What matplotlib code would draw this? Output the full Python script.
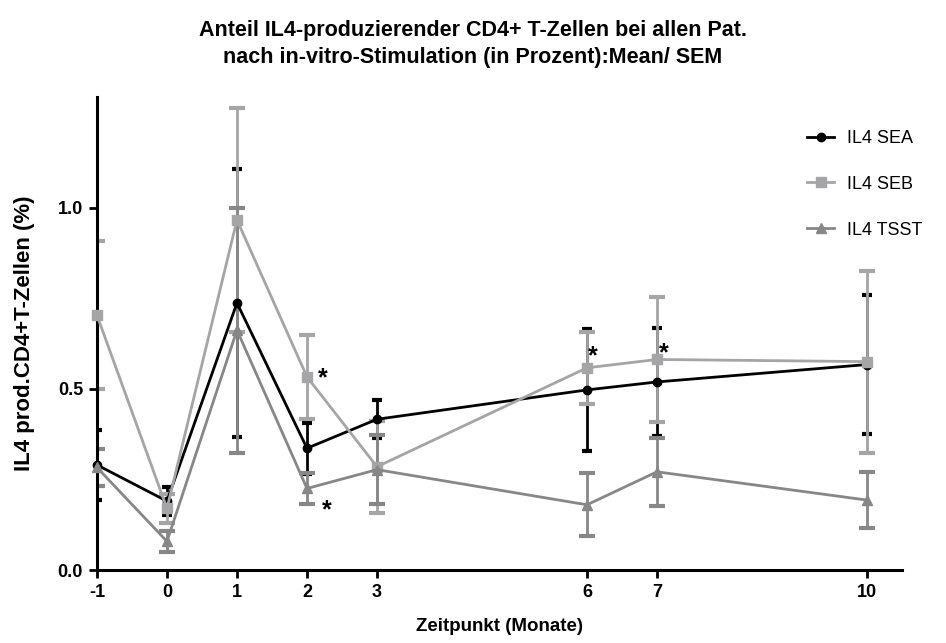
import matplotlib
matplotlib.use("Agg")
import matplotlib.pyplot as plt

plt.rcParams['font.family'] = ['Liberation Sans', 'DejaVu Sans']

# Zeitpunkte (Monate)
months = [-1, 0, 1, 2, 3, 6, 7, 10]

# Mittelwerte und SEM je Stimulation
sea_mean = [0.29, 0.19, 0.737, 0.336, 0.416, 0.497, 0.519, 0.567]
sea_sem = [0.096, 0.038, 0.369, 0.070, 0.053, 0.168, 0.150, 0.193]
seb_mean = [0.703, 0.170, 0.966, 0.533, 0.285, 0.558, 0.581, 0.575]
seb_sem = [0.204, 0.040, 0.308, 0.115, 0.127, 0.100, 0.173, 0.251]
tsst_mean = [0.283, 0.079, 0.662, 0.225, 0.277, 0.180, 0.271, 0.193]
tsst_sem = [0.050, 0.029, 0.338, 0.043, 0.095, 0.087, 0.094, 0.078]

# signifikante Zeitpunkte: (Monat, Wert, Versatz in Pixeln)
stars = [(2, 0.533, (16, -8)), (2, 0.225, (20, -29)),
         (6, 0.558, (6, 4)), (7, 0.581, (7, -1))]

# name, Mittel, SEM, Farbe, Symbol, Symbolgroesse, Kappenbreite
series = [
    ("IL4 SEA", sea_mean, sea_sem, "black", "o", 6, 3.5),
    ("IL4 SEB", seb_mean, seb_sem, "#a5a5a8", "s", 6.5, 5.5),
    ("IL4 TSST", tsst_mean, tsst_sem, "#878787", "^", 7.5, 5.5),
]

fig = plt.figure(figsize=(9.46, 6.43), dpi=100)
ax = fig.add_axes([0.1025, 0.1135, 0.851, 0.7355])

# Fehlerbalken zuerst, danach Linien mit Symbolen
for name, mean, sem, col, mk, ms, cs in series:
    ax.errorbar(months, mean, yerr=sem, fmt='none', ecolor=col,
                elinewidth=2, capsize=cs, capthick=3, zorder=2)
for name, mean, sem, col, mk, ms, cs in series:
    ax.plot(months, mean, color=col, marker=mk, markersize=ms,
            linewidth=2, label=name, zorder=3, clip_on=False)

for x, y, off in stars:
    ax.annotate("*", xy=(x, y), xytext=off, textcoords="offset pixels",
                fontsize=18, fontweight="bold", ha="center", va="baseline")

ax.set_xlim(-1, 10.5)
ax.set_ylim(0, 1.305)
ax.set_xticks(months)
ax.set_xticklabels([str(m) for m in months])
ax.set_yticks([0.0, 0.5, 1.0])
ax.set_yticklabels(["0.0", "0.5", "1.0"])

for s in ["top", "right"]:
    ax.spines[s].set_visible(False)
for s in ["left", "bottom"]:
    ax.spines[s].set_linewidth(2.2)
ax.tick_params(direction="out", length=6, width=2, labelsize=13, pad=4)
for lab in ax.get_xticklabels() + ax.get_yticklabels():
    lab.set_fontweight("bold")

ax.set_xlabel("Zeitpunkt (Monate)", fontsize=13.5, fontweight="bold", labelpad=12)
ax.set_ylabel("IL4 prod.CD4+T-Zellen (%)", fontsize=16, fontweight="bold", labelpad=16)

fig.text(0.5, 0.932, "Anteil IL4-produzierender CD4+ T-Zellen bei allen Pat.\n"
         "nach in-vitro-Stimulation (in Prozent):Mean/ SEM",
         fontsize=15.5, fontweight="bold", ha="center", va="center",
         linespacing=1.4)

ax.legend(loc="upper left", bbox_to_anchor=(0.862, 0.965), frameon=False,
          fontsize=13, labelspacing=1.6, handlelength=1.5, handletextpad=0.7)

fig.savefig("out.png", dpi=100)
